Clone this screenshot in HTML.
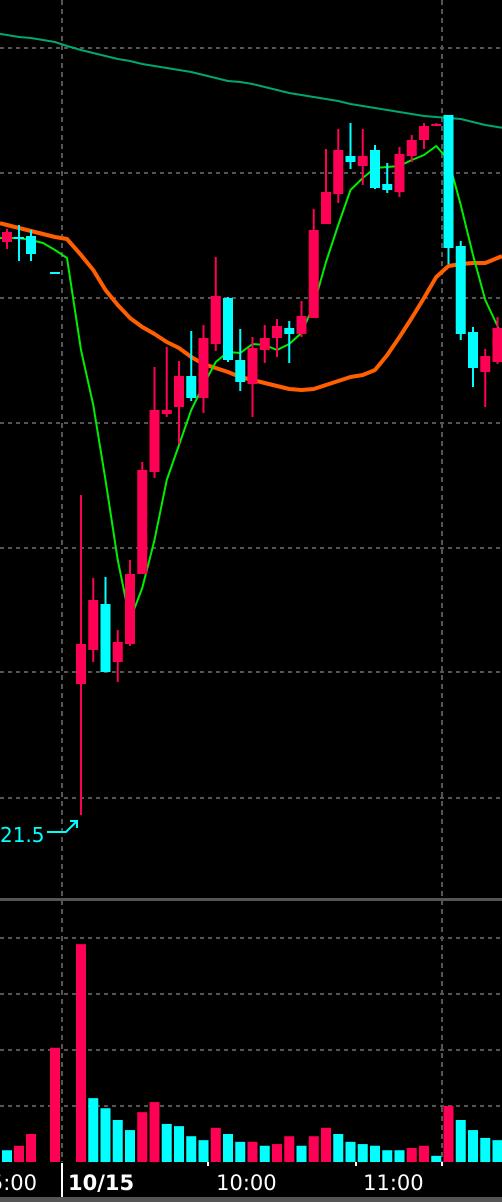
<!DOCTYPE html>
<html><head><meta charset="utf-8"><style>
html,body{margin:0;padding:0;background:#000;width:502px;height:1202px;overflow:hidden}
svg{display:block}
text{font-family:"DejaVu Sans","Liberation Sans",sans-serif}
</style></head><body>
<svg id="chart" width="502" height="1202" xmlns="http://www.w3.org/2000/svg">
<rect width="502" height="1202" fill="#000"/>
<g id="grid"></g>
<g id="lines"></g>
<g id="candles"></g>
<g id="vols"></g>
<g id="axis"></g>
</svg>
<script>
// ---- data ----
const timeLabels = ["5:00","10/15","10:00","11:00"];
const timeLabelIdx = [-0.4, 6, 19.5, 31.5];
const opens  = [27.23,27.28,27.29,null,26.93,null,22.81,23.15,23.61,23.03,23.21,23.91,24.93,25.51,25.58,25.89,25.67,26.21,26.67,26.05,25.81,26.15,26.27,26.37,26.31,26.47,27.41,27.71,28.09,27.99,28.15,27.81,27.73,28.09,28.25,28.40,28.50,27.19,26.33,25.93,26.03];
const highs  = [27.36,27.40,27.35,null,26.93,null,24.70,23.87,23.88,23.35,24.05,25.03,25.98,26.18,26.04,26.34,26.40,27.08,26.68,26.36,26.28,26.40,26.46,26.44,26.64,27.56,28.16,28.36,28.42,28.36,28.20,28.02,28.18,28.30,28.42,28.42,28.50,27.24,26.38,26.16,26.48];
const lows   = [27.16,27.04,27.04,null,26.92,null,21.50,23.03,22.93,22.83,23.19,23.91,24.87,25.48,25.21,25.64,25.52,26.14,26.03,25.74,25.48,26.02,26.08,26.02,26.28,26.47,27.41,27.62,27.96,27.80,27.76,27.72,27.68,28.03,28.16,28.40,27.01,26.25,25.78,25.58,26.01];
const closes = [27.33,27.26,27.11,null,26.92,null,23.21,23.65,22.93,23.23,23.91,24.95,25.55,25.55,25.89,25.67,26.27,26.69,26.05,25.83,26.17,26.27,26.39,26.31,26.49,27.35,27.73,28.15,28.03,28.09,27.77,27.75,28.11,28.25,28.39,28.41,27.17,26.31,25.97,26.09,26.37];
const volumes = [21,29,50,null,204,null,389,114,96,75,57,89,107,68,64,46,39,61,50,36,36,29,32,46,29,46,61,50,36,32,29,21,21,25,29,11,100,75,57,43,39];
const volDir  = ["d","u","u",null,"u",null,"u","d","d","d","d","u","u","d","d","d","d","u","d","d","u","d","u","u","d","u","u","d","d","d","d","d","d","u","u","d","u","d","d","d","d"];
const maShort = [27.27,27.27,27.25,27.22,27.15,27.07,26.15,25.60,24.85,24.05,23.45,23.77,24.25,24.85,25.20,25.55,25.80,26.03,26.13,26.12,26.21,26.20,26.15,26.21,26.32,26.60,27.03,27.40,27.75,27.87,27.97,27.98,27.99,28.05,28.10,28.19,28.05,27.60,27.10,26.65,26.39];
const maMid   = [27.40,27.37,27.34,27.31,27.28,27.26,27.10,26.95,26.75,26.60,26.47,26.38,26.31,26.23,26.17,26.08,26.01,25.97,25.93,25.88,25.85,25.82,25.79,25.76,25.75,25.76,25.80,25.84,25.88,25.90,25.95,26.10,26.28,26.47,26.67,26.88,26.99,27.01,27.02,27.02,27.07];
const maLong  = [29.30,29.28,29.27,29.25,29.23,29.19,29.15,29.12,29.09,29.06,29.04,29.01,28.99,28.97,28.95,28.93,28.90,28.87,28.84,28.83,28.81,28.78,28.75,28.72,28.70,28.68,28.66,28.64,28.61,28.59,28.57,28.55,28.53,28.51,28.49,28.48,28.47,28.46,28.43,28.40,28.38];
const priceGrid = [29.17,27.92,26.67,25.42,24.17,22.93,21.67];
const volGrid = [100,200,300,400];
const lowLabel = "21.5";
const lowIdx = 6;
// ---- scales ----
const X = i => i < 6 ? 7 + 12*i : 81 + 12.25*(i-6);
const Y = p => 815 - (p - 21.5)*100;
const VY = v => 1162 - v*0.56;
const NS = "http://www.w3.org/2000/svg";
function mk(tag, parent, attrs){const e=document.createElementNS(NS,tag);for(const k in attrs)e.setAttribute(k,attrs[k]);parent.appendChild(e);return e;}
const UP="#ff0055", DN="#00ffff";
const grid=document.getElementById('grid');
priceGrid.forEach(p=>{const l=mk('line',grid,{x1:0,x2:502,y1:Y(p),y2:Y(p),stroke:'#555','stroke-width':2,'stroke-dasharray':'4 4'});

});
volGrid.forEach(v=>{const l=mk('line',grid,{x1:0,x2:502,y1:VY(v),y2:VY(v),stroke:'#555','stroke-width':2,'stroke-dasharray':'4 4'});

});
[62,442].forEach(x=>{const l=mk('line',grid,{x1:x,x2:x,y1:0,y2:1162,stroke:'#555','stroke-width':2,'stroke-dasharray':'5 4'});

});
const sep=mk('rect',grid,{x:0,y:898,width:502,height:3,fill:'#555'});


// lines
const lines=document.getElementById('lines');
function poly(arr,color,w,name){
  const pts=arr.map((v,i)=>X(i)+','+Y(v));
  const n=arr.length;
  pts.unshift('0,'+(Y(arr[0])-(Y(arr[1])-Y(arr[0]))*X(0)/12));
  pts.push('502,'+(Y(arr[n-1])+(Y(arr[n-1])-Y(arr[n-2]))*(502-X(n-1))/12.25));
  const p=mk('polyline',lines,{points:pts.join(' '),fill:'none',stroke:color,'stroke-width':w,'stroke-linejoin':'round'});
  
  
}
poly(maLong,'#00a86b',2,'ma-long-line');
poly(maMid,'#ff5f00',4,'ma-mid-line');
poly(maShort,'#00ee00',2,'ma-short-line');
// candles
const cg=document.getElementById('candles');
opens.forEach((o,i)=>{
  if(o===null)return;
  const c=closes[i], col=c>=o?UP:DN, x=X(i);
  const w=mk('rect',cg,{x:x-1,y:Y(highs[i]),width:2,height:Math.max(1,Y(lows[i])-Y(highs[i])),fill:col});
  
  
  const top=Y(Math.max(o,c)), bot=Y(Math.min(o,c));
  const b=mk('rect',cg,{x:x-5,y:top,width:10,height:Math.max(2,bot-top),fill:col});
  
  
});
// low annotation
const ly=Y(lows[lowIdx]);
const lt=mk('text',cg,{x:0,y:ly+27,fill:DN,'font-size':20});
lt.textContent=lowLabel;


const la=mk('path',cg,{d:`M47 ${ly+17} H66 L76 ${ly+7} M70 ${ly+6} H77 V${ly+13}`,stroke:DN,'stroke-width':2,fill:'none'});


// volumes
const vg=document.getElementById('vols');
volumes.forEach((v,i)=>{
  if(v===null)return;
  const r=mk('rect',vg,{x:X(i)-5,y:VY(v),width:10,height:1162-VY(v),fill:volDir[i]==='u'?UP:DN});
  
  
});
// axis
const ax=document.getElementById('axis');
const bl=mk('rect',ax,{x:0,y:1197,width:502,height:5,fill:'#555'});


const dl=mk('rect',ax,{x:61,y:1163,width:2,height:34,fill:'#fff'});


[208,356,442].forEach(x=>{const t=mk('rect',ax,{x:x-1,y:1162,width:2,height:4,fill:'#fff'});

});
timeLabels.forEach((s,k)=>{
  const bold=s.indexOf('/')>=0;
  const first=k===0;
  const t=mk('text',ax,{x:bold?68:(first?37:X(timeLabelIdx[k])),y:1190,fill:'#fff','font-size':21,'font-weight':bold?'bold':'normal','text-anchor':bold?'start':(first?'end':'middle')});
  t.textContent=s;
  
  
});
</script>
</body></html>
